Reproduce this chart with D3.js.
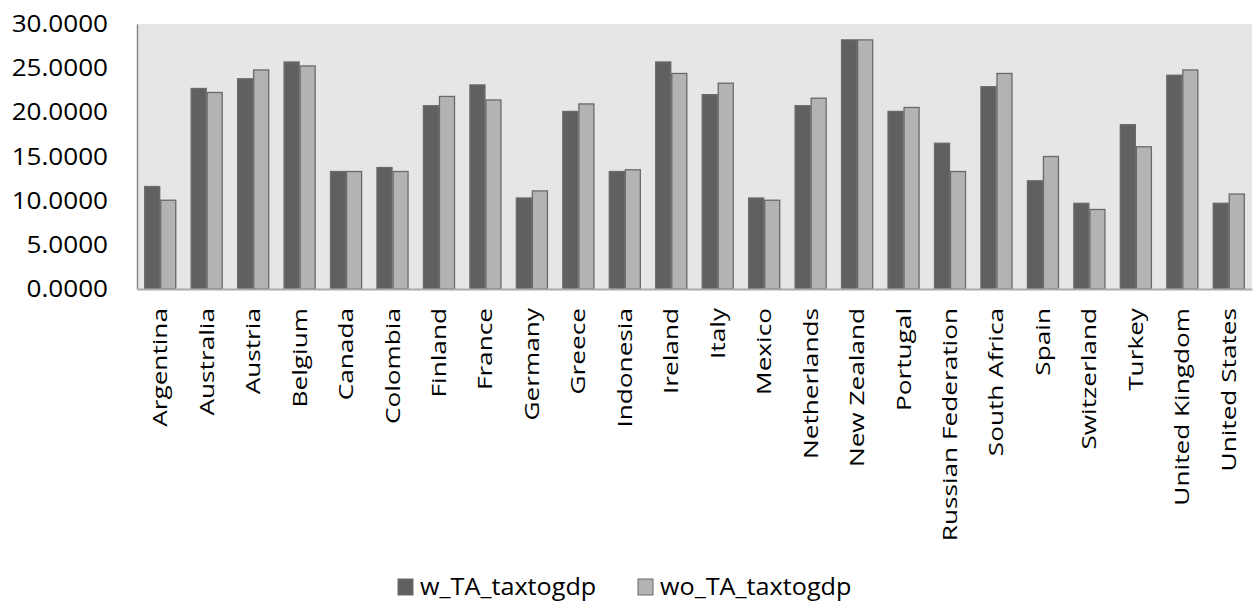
<!DOCTYPE html>
<html>
<head>
<meta charset="utf-8">
<script src="https://cdn.jsdelivr.net/npm/d3@7/dist/d3.min.js"></script>
<style>
  body { margin: 0; background: #fff; }
  svg { display: block; }
  text { font-family: "Open Sans", "Noto Sans", sans-serif; fill: #000; }
</style>
</head>
<body>
<svg id="chart"></svg>
<script>
'use strict';

const countries = ['Argentina', 'Australia', 'Austria', 'Belgium', 'Canada', 'Colombia',
  'Finland', 'France', 'Germany', 'Greece', 'Indonesia', 'Ireland', 'Italy', 'Mexico',
  'Netherlands', 'New Zealand', 'Portugal', 'Russian Federation', 'South Africa', 'Spain',
  'Switzerland', 'Turkey', 'United Kingdom', 'United States'];

const withTA = [11.6, 22.7, 23.8, 25.7, 13.3, 13.75, 20.75, 23.1, 10.3, 20.1, 13.3, 25.7,
  22.0, 10.3, 20.75, 28.2, 20.1, 16.5, 22.9, 12.25, 9.7, 18.6, 24.2, 9.7];
const withoutTA = [10.05, 22.25, 24.8, 25.25, 13.3, 13.3, 21.8, 21.4, 11.1, 20.95, 13.5, 24.4,
  23.3, 10.05, 21.6, 28.2, 20.55, 13.3, 24.4, 15.0, 9.0, 16.1, 24.8, 10.75];

const seriesNames = ['w_TA_taxtogdp', 'wo_TA_taxtogdp'];
const seriesColors = ['#606060', '#b3b3b3'];
const yTicks = [0, 5, 10, 15, 20, 25, 30];

const W = 1255, H = 603;
const margin = {top: 24, right: 3, bottom: 314, left: 137};
const width = W - margin.left - margin.right;
const height = H - margin.top - margin.bottom;

const svg = d3.select('#chart').attr('width', W).attr('height', H);
const g = svg.append('g').attr('transform', `translate(${margin.left},${margin.top})`);

g.append('rect')
    .attr('width', width)
    .attr('height', height)
    .attr('fill', '#e6e6e6');

const x = d3.scaleBand().domain(countries).range([0, width]).paddingInner(0.31).paddingOuter(0.155);
const x1 = d3.scaleBand().domain([0, 1]).range([0, x.bandwidth()]);
const y = d3.scaleLinear().domain([0, 30]).range([height, 0]);

const rows = countries.map((c, i) => ({c, v: [withTA[i], withoutTA[i]]}));

g.selectAll('g.grp')
  .data(rows)
  .join('g')
    .attr('class', 'grp')
    .attr('transform', d => `translate(${x(d.c)},0)`)
  .selectAll('rect')
  .data(d => d.v)
  .join('rect')
    .attr('x', (d, i) => x1(i) + 0.5)
    .attr('y', d => y(d))
    .attr('width', x1.bandwidth() - 1)
    .attr('height', d => height - y(d))
    .attr('fill', (d, i) => seriesColors[i])
    .attr('stroke', '#6a6a6a')
    .attr('stroke-width', 1.3);

// stretch glyphs along the text direction, like the reference rendering
function stretch(sel, k) {
  sel.each(function() {
    const len = this.getComputedTextLength();
    d3.select(this).attr('textLength', len * k).attr('lengthAdjust', 'spacingAndGlyphs');
  });
}

const yAxis = g.append('g')
    .call(d3.axisLeft(y).tickValues(yTicks).tickSize(0).tickPadding(29).tickFormat(d3.format('.4f')));
yAxis.attr('font-family', null).attr('font-size', null);
yAxis.select('.domain').attr('stroke', '#888').attr('stroke-width', 1.5);
yAxis.selectAll('text').attr('font-size', 23.5).call(stretch, 1.11);

const xAxis = g.append('g')
    .attr('transform', `translate(0,${height})`)
    .call(d3.axisBottom(x).tickSize(0));
xAxis.attr('font-family', null).attr('font-size', null);
xAxis.select('.domain').attr('stroke', '#aaa').attr('stroke-width', 2);
xAxis.selectAll('text')
    .attr('font-size', 20)
    .attr('text-anchor', 'end')
    .attr('dy', '0.35em')
    .attr('transform', 'translate(-3,19) rotate(-90)')
    .call(stretch, 1.31);

const legend = svg.append('g').attr('transform', 'translate(398,579)');
const legendX = [0, 240];
seriesNames.forEach((s, i) => {
  const item = legend.append('g').attr('transform', `translate(${legendX[i]},0)`);
  item.append('rect')
      .attr('width', 15).attr('height', 16)
      .attr('fill', seriesColors[i])
      .attr('stroke', '#6a6a6a');
  item.append('text')
      .attr('x', 22).attr('y', 8)
      .attr('dy', '0.35em')
      .attr('font-size', 24)
      .call(t => t.text(s))
      .call(stretch, 1.05);
});
</script>
</body>
</html>
